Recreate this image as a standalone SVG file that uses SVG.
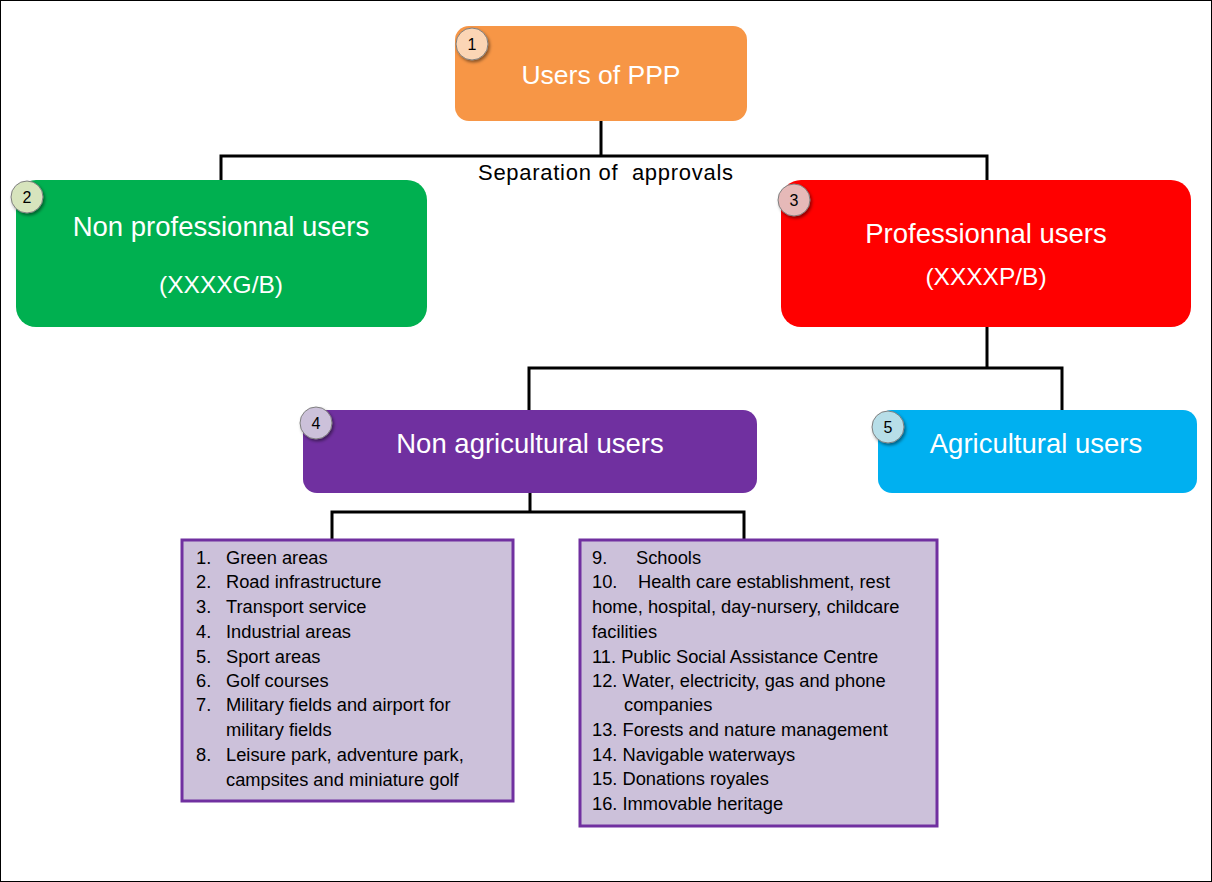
<svg xmlns="http://www.w3.org/2000/svg" width="1212" height="882" viewBox="0 0 1212 882">
<defs>
<filter id="sh" x="-50%" y="-50%" width="200%" height="200%">
<feDropShadow dx="1.5" dy="2" stdDeviation="1.5" flood-color="#000" flood-opacity="0.45"/>
</filter>
</defs>
<style>
.t{font-family:"Liberation Sans",Arial,sans-serif;fill:#fff;text-anchor:middle}
.big{font-size:27.5px}
.code{font-size:24.5px}
.badge{stroke:#7f7f7f;stroke-width:1;filter:url(#sh)}
.bn{font-family:"Liberation Sans",Arial,sans-serif;font-size:16px;fill:#000;text-anchor:middle}
.li{font-family:"Liberation Sans",Arial,sans-serif;font-size:18.3px;fill:#000}
.con{stroke:#000;stroke-width:3;fill:none}
.list{fill:#CCC1DA;stroke:#7030A0;stroke-width:3}
</style>
<rect x="0.5" y="0.5" width="1211" height="881" fill="#fff" stroke="#000" stroke-width="1"/>
<g id="connectors">
<path class="con" d="M601 121V156M221 181V156H987V181"/>
<path class="con" d="M987 327V368M529 410V368H1062V410"/>
<path class="con" d="M530 493V512M332 540V512H744V540"/>
</g>
<text x="478" y="180" font-family="Liberation Sans,Arial,sans-serif" font-size="22" fill="#000" textLength="255" lengthAdjust="spacing" xml:space="preserve">Separation of  approvals</text>
<g id="n1">
<rect x="455" y="26" width="292" height="95" rx="14" fill="#F79646"/>
<text class="t" font-size="26.5" x="601" y="84">Users of PPP</text>
<circle class="badge" cx="472" cy="44" r="16" fill="#FBD5B5"/>
<text class="bn" x="472" y="50">1</text>
</g>
<g id="n2">
<rect x="16" y="180" width="411" height="147" rx="20" fill="#00B050"/>
<text class="t big" x="221" y="236">Non professionnal users</text>
<text class="t code" x="221" y="293">(XXXXG/B)</text>
<circle class="badge" cx="27" cy="197" r="16" fill="#D7E4BD"/>
<text class="bn" x="27" y="203">2</text>
</g>
<g id="n3">
<rect x="781" y="180" width="410" height="147" rx="20" fill="#FF0000"/>
<text class="t big" x="986" y="243">Professionnal users</text>
<text class="t code" x="986" y="285">(XXXXP/B)</text>
<circle class="badge" cx="794" cy="200" r="16" fill="#E6B9B8"/>
<text class="bn" x="794" y="206">3</text>
</g>
<g id="n4">
<rect x="303" y="410" width="454" height="83" rx="14" fill="#7030A0"/>
<text class="t big" x="530" y="453">Non agricultural users</text>
<circle class="badge" cx="316" cy="423" r="16" fill="#CCC1DA"/>
<text class="bn" x="316" y="429">4</text>
</g>
<g id="n5">
<rect x="878" y="410" width="319" height="83" rx="14" fill="#00B0F0"/>
<text class="t big" x="1036" y="453">Agricultural users</text>
<circle class="badge" cx="888" cy="427" r="16" fill="#B7DEE8"/>
<text class="bn" x="888" y="433">5</text>
</g>
<g id="list1">
<rect class="list" x="182" y="540" width="331" height="261"/>
<text class="li" x="196" y="564">1.</text><text class="li" x="226" y="564">Green areas</text>
<text class="li" x="196" y="588">2.</text><text class="li" x="226" y="588">Road infrastructure</text>
<text class="li" x="196" y="613">3.</text><text class="li" x="226" y="613">Transport service</text>
<text class="li" x="196" y="638">4.</text><text class="li" x="226" y="638">Industrial areas</text>
<text class="li" x="196" y="663">5.</text><text class="li" x="226" y="663">Sport areas</text>
<text class="li" x="196" y="687">6.</text><text class="li" x="226" y="687">Golf courses</text>
<text class="li" x="196" y="711">7.</text><text class="li" x="226" y="711">Military fields and airport for</text>
<text class="li" x="226" y="736">military fields</text>
<text class="li" x="196" y="761">8.</text><text class="li" x="226" y="761">Leisure park, adventure park,</text>
<text class="li" x="226" y="786">campsites and miniature golf</text>
</g>
<g id="list2">
<rect class="list" x="580" y="540" width="357" height="286"/>
<text class="li" x="592" y="564">9.</text><text class="li" x="636" y="564">Schools</text>
<text class="li" x="592" y="588">10.</text><text class="li" x="638" y="588">Health care establishment, rest</text>
<text class="li" x="592" y="613">home, hospital, day-nursery, childcare</text>
<text class="li" x="592" y="638">facilities</text>
<text class="li" x="592" y="663">11. Public Social Assistance Centre</text>
<text class="li" x="592" y="687">12. Water, electricity, gas and phone</text>
<text class="li" x="624" y="711">companies</text>
<text class="li" x="592" y="736">13. Forests and nature management</text>
<text class="li" x="592" y="761">14. Navigable waterways</text>
<text class="li" x="592" y="785">15. Donations royales</text>
<text class="li" x="592" y="810">16. Immovable heritage</text>
</g>
</svg>
